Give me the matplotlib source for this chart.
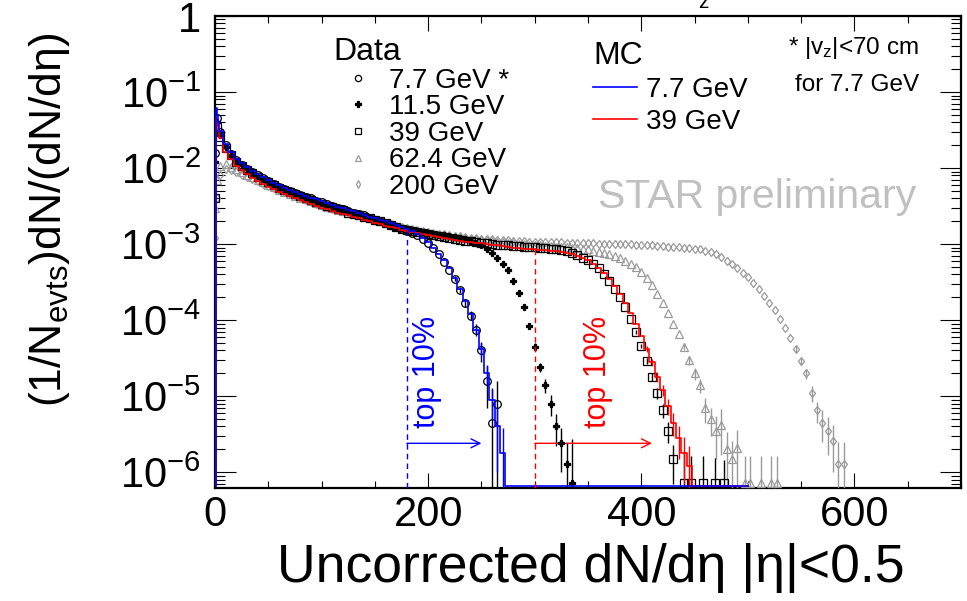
import numpy as np
import matplotlib
matplotlib.use("Agg")
import matplotlib.pyplot as plt
from matplotlib.lines import Line2D
from matplotlib.ticker import LogLocator, MultipleLocator, FuncFormatter, NullFormatter

plt.rcParams['font.family'] = ['Liberation Sans', 'DejaVu Sans']
plt.rcParams['mathtext.fontset'] = 'custom'
plt.rcParams['mathtext.rm'] = 'Liberation Sans'
plt.rcParams['mathtext.it'] = 'Liberation Sans:italic'
plt.rcParams['mathtext.bf'] = 'Liberation Sans:bold'

# ---- data (bins: 0, 2, then every 5 units) ----
y_77 = [0.016, 0.045,
        0.030, 0.020, 0.0155, 0.0128, 0.0111, 0.0098, 0.0088, 0.0080, 0.0073, 0.0067,
        0.0062, 0.0057, 0.0053, 0.0050, 0.0047, 0.0044, 0.0042, 0.0040, 0.0037, 0.0036,
        0.0034, 0.0032, 0.0030, 0.0029, 0.0027, 0.0026, 0.0025, 0.0024, 0.0022, 0.0021,
        0.0020, 0.0019, 0.0018, 0.0017, 0.0016, 0.0015, 0.00142, 0.00132, 0.00118, 0.00102,
        8.8e-4, 7.4e-4, 5.9e-4, 4.6e-4, 3.5e-4, 2.5e-4, 1.7e-4, 1.15e-4, 7.5e-5, 4.0e-5,
        1.6e-5, 4.5e-6, 8e-6]
err_77 = [2.5e-5, 2.2e-5, 1.9e-5, 1.6e-5, 1.4e-5, 1.2e-5, 9e-6, 8e-6, 8e-6]

y_115 = [0.012, 0.040,
         0.027, 0.019, 0.015, 0.0125, 0.0109, 0.0096, 0.0087, 0.0079, 0.0072, 0.0066,
         0.0061, 0.0057, 0.0053, 0.0049, 0.0046, 0.0044, 0.0041, 0.0039, 0.0037, 0.0035,
         0.0033, 0.0031, 0.0030, 0.0028, 0.0027, 0.0025, 0.0024, 0.0023, 0.0022, 0.0021,
         0.0020, 0.0019, 0.0018, 0.0017, 0.00165, 0.0016, 0.00155, 0.0015, 0.00145, 0.0014,
         0.00137, 0.00133, 0.0013, 0.00127, 0.00124, 0.00121, 0.00117, 0.00111, 0.00104, 9.6e-4,
         8.6e-4, 7.6e-4, 6.5e-4, 5.5e-4, 4.5e-4, 3.3e-4, 2.3e-4, 1.5e-4, 8.5e-5, 4.5e-5,
         2.4e-5, 1.4e-5, 8e-6, 4e-6, 2.4e-6, 1.3e-6, 7.3e-7]
err_115 = [8e-6, 5e-6, 3.5e-6, 3e-6, 2.5e-6, 1.8e-6, 1.4e-6, 1.1e-6, 2e-6]

y_39 = [0.004, 0.035,
        0.026, 0.0185, 0.0148, 0.0122, 0.0106, 0.0094, 0.0085, 0.0077, 0.0070, 0.0065,
        0.0060, 0.0055, 0.0051, 0.0048, 0.0045, 0.0043, 0.0040, 0.0038, 0.0036, 0.0034,
        0.0032, 0.0031, 0.0029, 0.0028, 0.0026, 0.0025, 0.0024, 0.0023, 0.0022, 0.0021,
        0.0020, 0.0019, 0.0018, 0.0017, 0.0016, 0.00155, 0.0015, 0.00145, 0.0014, 0.00136,
        0.00132, 0.00128, 0.00124, 0.0012, 0.00117, 0.00114, 0.00111, 0.00109, 0.00106, 0.00104,
        0.00102, 0.0010, 9.8e-4, 9.7e-4, 9.6e-4, 9.5e-4, 9.4e-4, 9.3e-4, 9.2e-4, 9.1e-4,
        9.0e-4, 8.9e-4, 8.7e-4, 8.5e-4, 8.3e-4, 8.0e-4, 7.6e-4, 7.1e-4, 6.6e-4, 6.1e-4,
        5.5e-4, 4.8e-4, 4.0e-4, 3.3e-4, 2.6e-4, 2.0e-4, 1.5e-4, 1.05e-4, 7.0e-5, 4.6e-5,
        2.9e-5, 1.8e-5, 1.1e-5, 6.5e-6, 3.5e-6, 1.5e-6]
err_39 = [3.5e-6, 3e-6, 2.6e-6, 2.2e-6, 1.8e-6, 1.4e-6, 1.1e-6, 8e-7]
x_39_single = [440, 447, 458, 469, 478]
y_39_single = [7.3e-7, 7.3e-7, 7.3e-7, 7.3e-7, 7.3e-7]
err_39_single = [1.2e-6, 9e-7, 9e-7, 8e-7, 7e-7]

y_624 = [0.003, 0.007,
         0.0105, 0.0112, 0.0104, 0.0096, 0.0089, 0.0082, 0.0076, 0.0070, 0.0065, 0.0060,
         0.0056, 0.0052, 0.0049, 0.0046, 0.0043, 0.0041, 0.0039, 0.0037, 0.0035, 0.0033,
         0.0031, 0.0030, 0.0028, 0.0027, 0.0026, 0.0025, 0.0024, 0.0023, 0.0022, 0.0021,
         0.0020, 0.0019, 0.0018, 0.00172, 0.00165, 0.0016, 0.00155, 0.0015, 0.00145, 0.0014,
         0.00137, 0.00134, 0.00131, 0.00128, 0.00125, 0.00123, 0.0012, 0.00118, 0.00116, 0.00114,
         0.00112, 0.0011, 0.00108, 0.00106, 0.00104, 0.00102, 0.0010, 9.9e-4, 9.8e-4, 9.7e-4,
         9.6e-4, 9.5e-4, 9.4e-4, 9.3e-4, 9.2e-4, 9.1e-4, 9.0e-4, 8.9e-4, 8.7e-4, 8.5e-4,
         8.2e-4, 7.9e-4, 7.6e-4, 7.3e-4, 6.9e-4, 6.5e-4, 6.0e-4, 5.5e-4, 5.0e-4, 4.3e-4,
         3.6e-4, 2.9e-4, 2.2e-4, 1.7e-4, 1.25e-4, 9.0e-5, 6.5e-5, 4.5e-5, 3.0e-5, 2.0e-5,
         1.4e-5, 7.0e-6, 5.0e-6, 3.5e-6, 4.2e-6, 2.0e-6, 1.5e-6, 2.1e-6]
err_624 = [5e-6, 4e-6, 3.5e-6, 3e-6, 2.5e-6, 2e-6, 2e-6, 2.5e-6, 1.4e-6, 1.1e-6, 1.5e-6]
x_624_single = [497, 502, 512, 522, 527]
y_624_single = [7.3e-7, 7.3e-7, 7.3e-7, 7.3e-7, 7.3e-7]
err_624_single = [9e-7, 9e-7, 9e-7, 9e-7, 9e-7]

y_200 = [0.0012, 0.004,
         0.008, 0.0098, 0.0094, 0.0088, 0.0082, 0.0077, 0.0072, 0.0067, 0.0062, 0.0058,
         0.0054, 0.0051, 0.0048, 0.0045, 0.0043, 0.0040, 0.0038, 0.0036, 0.0034, 0.0032,
         0.0031, 0.0029, 0.0028, 0.0027, 0.0026, 0.0025, 0.0024, 0.0023, 0.0022, 0.0021,
         0.0020, 0.0019, 0.00182, 0.00175, 0.00168, 0.00162, 0.00157, 0.00152, 0.00148, 0.00144,
         0.0014, 0.00137, 0.00134, 0.00131, 0.00128, 0.00126, 0.00124, 0.00122, 0.0012, 0.00118,
         0.00117, 0.00115, 0.00114, 0.00113, 0.00112, 0.00111, 0.0011, 0.00109, 0.00108, 0.00107,
         0.00107, 0.00106, 0.00106, 0.00105, 0.00105, 0.00104, 0.00104, 0.00103, 0.00103, 0.00102,
         0.00102, 0.00101, 0.00101, 0.0010, 0.0010, 0.0010, 9.9e-4, 9.9e-4, 9.8e-4, 9.8e-4,
         9.7e-4, 9.6e-4, 9.5e-4, 9.4e-4, 9.3e-4, 9.2e-4, 9.1e-4, 9.0e-4, 8.9e-4, 8.7e-4,
         8.5e-4, 8.2e-4, 7.8e-4, 7.3e-4, 6.7e-4, 6.0e-4, 5.4e-4, 4.8e-4, 4.2e-4, 3.7e-4,
         3.1e-4, 2.6e-4, 2.1e-4, 1.7e-4, 1.35e-4, 1.05e-4, 7.8e-5, 5.8e-5, 4.2e-5, 2.9e-5,
         2.0e-5, 1.1e-5, 6.5e-6, 4.5e-6, 3.5e-6, 2.6e-6, 1.3e-6, 1.3e-6]
err_200 = [3.5e-6, 3e-6, 3e-6, 2.5e-6, 2e-6, 2e-6, 1.8e-6, 1.6e-6, 1.2e-6, 1.2e-6]

# MC histograms (bins: 0, 1, 2, 3, then every 5 units), 0 = empty bin
mc_77 = [0, 0.062, 0.05, 0.04,
         0.031, 0.021, 0.0162, 0.0133, 0.0115, 0.0102, 0.0092, 0.0083, 0.0076, 0.0070,
         0.0064, 0.0059, 0.0055, 0.0052, 0.0049, 0.0046, 0.0043, 0.0041, 0.0039, 0.0037,
         0.0035, 0.0033, 0.0031, 0.0030, 0.0028, 0.0027, 0.0026, 0.0024, 0.0023, 0.0022,
         0.0021, 0.0020, 0.0019, 0.00178, 0.00168, 0.00158, 0.00148, 0.00136, 0.00122, 0.00106,
         9.0e-4, 7.5e-4, 6.1e-4, 4.8e-4, 3.6e-4, 2.6e-4, 1.8e-4, 1.2e-4, 7.5e-5, 4.2e-5,
         2.0e-5, 9e-6, 4e-6, 1.8e-6, 0]
mc_77_err = [1e-5, 8e-6, 6e-6, 4e-6, 3e-6, 2e-6]
mc_77_end = 500

mc_39 = [0, 0.045, 0.038, 0.032,
         0.025, 0.0165, 0.013, 0.0108, 0.0094, 0.0083, 0.0075, 0.0068, 0.0062, 0.0057,
         0.0053, 0.0049, 0.0046, 0.0043, 0.0040, 0.0038, 0.0036, 0.0034, 0.0032, 0.0030,
         0.0029, 0.0027, 0.0026, 0.0025, 0.0024, 0.0023, 0.0022, 0.0021, 0.0020, 0.0019,
         0.00182, 0.00175, 0.00168, 0.00161, 0.00155, 0.0015, 0.00145, 0.0014, 0.00135, 0.00131,
         0.00127, 0.00123, 0.0012, 0.00117, 0.00114, 0.00111, 0.00108, 0.00106, 0.00104, 0.00102,
         0.0010, 9.8e-4, 9.6e-4, 9.4e-4, 9.2e-4, 9.0e-4, 8.9e-4, 8.7e-4, 8.6e-4, 8.5e-4,
         8.4e-4, 8.3e-4, 8.2e-4, 8.0e-4, 7.9e-4, 7.7e-4, 7.4e-4, 7.0e-4, 6.6e-4, 6.1e-4,
         5.5e-4, 4.9e-4, 4.2e-4, 3.5e-4, 2.8e-4, 2.2e-4, 1.7e-4, 1.25e-4, 9.0e-5, 6.2e-5,
         4.2e-5, 2.8e-5, 1.8e-5, 1.2e-5, 7.5e-6, 4.5e-6, 2.8e-6, 1.8e-6, 1.2e-6, 0]
mc_39_err = [4e-6, 3e-6, 2.5e-6, 2e-6, 1.8e-6, 1.5e-6, 1.3e-6, 1.1e-6, 1e-6]
mc_39_end = 500

cut_77, cut_77_top = 180, 1.5e-3
cut_39, cut_39_top = 300, 9e-4
arrow_y = 2.4e-6
arrow_77_end = 250
arrow_39_end = 410

YMIN, YMAX = 6.2e-7, 1.0
GREY = '#9a9a9a'


def data_bins(y):
    return np.r_[0, 2, 5 * np.arange(1, len(y) - 1)]


def mc_bins(y):
    return np.r_[0, 1, 2, 3, 5 * np.arange(1, len(y) - 3)]


fig = plt.figure(figsize=(9.67, 6.01), dpi=100)
ax = fig.add_axes([215 / 967, 1 - 488 / 601, (961 - 215) / 967, (488 - 16) / 601])
ax.set_yscale('log')


def draw_data(x, y, err_tail, marker, color, ms, filled=False):
    y = np.asarray(y, dtype=float)
    err = np.zeros_like(y)
    if len(err_tail):
        err[len(y) - len(err_tail):] = err_tail
    lo = np.minimum(err, y - 1e-9)
    ax.errorbar(x, y, yerr=[lo, err], fmt=marker, ls='none',
                mfc=color if filled else 'none', mec=color, ecolor=color,
                ms=ms, mew=0.9, elinewidth=1.0, capsize=0, zorder=3)


def draw_mc(y, err_tail, end, color):
    y = np.asarray(y, dtype=float)
    x = np.r_[mc_bins(y), end]
    yy = np.r_[y, 0]
    yy = np.where(yy > 0, yy, YMIN * 1.05)
    ax.step(x, yy, where='mid', color=color, lw=1.2, zorder=4)
    n = len(err_tail)
    xe = mc_bins(y)[len(y) - 1 - n:len(y) - 1]
    ye = y[len(y) - 1 - n:len(y) - 1]
    err = np.asarray(err_tail)
    ax.errorbar(xe, ye, yerr=[np.minimum(err, ye - 1e-9), err], fmt='none',
                ecolor=color, elinewidth=1.0, capsize=0, zorder=4)


# grey series first, then black, then MC
draw_data(data_bins(y_200), y_200, err_200, 'd', GREY, 4.5)
draw_data(data_bins(y_624), y_624, err_624, '^', GREY, 5.5)
draw_data(x_624_single, y_624_single, err_624_single, '^', GREY, 5.5)
draw_data(data_bins(y_39), y_39, err_39, 's', 'black', 5.5)
draw_data(x_39_single, y_39_single, err_39_single, 's', 'black', 5.5)
draw_data(data_bins(y_115), y_115, err_115, 'P', 'black', 5.0, filled=True)
draw_data(data_bins(y_77), y_77, err_77, 'o', 'black', 5.5)
draw_mc(mc_39, mc_39_err, mc_39_end, '#ff0000')
draw_mc(mc_77, mc_77_err, mc_77_end, '#0000ff')

# centrality cuts
ax.vlines(cut_77, YMIN, cut_77_top, colors='#0000ff', linestyles=(0, (4, 3)), lw=1.0, zorder=5)
ax.vlines(cut_39, YMIN, cut_39_top, colors='#ff0000', linestyles=(0, (4, 3)), lw=1.0, zorder=5)
ax.annotate('', xy=(arrow_77_end, arrow_y), xytext=(cut_77, arrow_y),
            arrowprops=dict(arrowstyle='->', color='#0000ff', lw=1.0,
                            mutation_scale=16, shrinkA=0, shrinkB=0))
ax.annotate('', xy=(arrow_39_end, arrow_y), xytext=(cut_39, arrow_y),
            arrowprops=dict(arrowstyle='->', color='#ff0000', lw=1.0,
                            mutation_scale=16, shrinkA=0, shrinkB=0))
ax.text(199, 2.1e-5, 'top 10%', color='#0000ff', rotation=90, ha='center', va='center', fontsize=22)
ax.text(359, 2.1e-5, 'top 10%', color='#ff0000', rotation=90, ha='center', va='center', fontsize=22)

ax.set_xlim(0, 700)
ax.set_ylim(YMIN, YMAX)
ax.xaxis.set_major_locator(MultipleLocator(200))
ax.xaxis.set_minor_locator(MultipleLocator(50))
ax.yaxis.set_major_locator(LogLocator(base=10, numticks=20))
ax.yaxis.set_minor_locator(LogLocator(base=10, subs=np.arange(2, 10), numticks=20))
ax.yaxis.set_minor_formatter(NullFormatter())
ax.yaxis.set_major_formatter(FuncFormatter(
    lambda v, pos: '1' if abs(v - 1) < 1e-9 else r'$10^{%d}$' % round(np.log10(v))))
ax.tick_params(which='both', direction='in', top=True, right=True, width=0.8)
ax.tick_params(axis='y', which='major', length=15, pad=10, labelsize=30)
ax.tick_params(axis='y', which='minor', length=7)
ax.tick_params(axis='x', which='major', length=11, pad=5, labelsize=30)
ax.tick_params(axis='x', which='minor', length=5)
for s in ax.spines.values():
    s.set_linewidth(1.6)

# legends
data_handles = [
    Line2D([], [], ls='none', marker='o', mfc='none', mec='black', ms=4.5, mew=0.9),
    Line2D([], [], ls='none', marker='P', mfc='black', mec='black', ms=4.5, mew=0.9),
    Line2D([], [], ls='none', marker='s', mfc='none', mec='black', ms=4.5, mew=0.9),
    Line2D([], [], ls='none', marker='^', mfc='none', mec=GREY, ms=4.5, mew=0.9),
    Line2D([], [], ls='none', marker='d', mfc='none', mec=GREY, ms=4.0, mew=0.9),
]
data_labels = ['7.7 GeV *', '11.5 GeV', '39 GeV', '62.4 GeV', '200 GeV']
leg1 = ax.legend(data_handles, data_labels, title='Data', loc='upper left',
                 bbox_to_anchor=(333 / 967, 1 - 37 / 601), bbox_transform=fig.transFigure,
                 frameon=False, fontsize=20, title_fontsize=23, alignment='left',
                 handlelength=1.8, handletextpad=0.2, labelspacing=0.02,
                 borderpad=0, borderaxespad=0)
ax.add_artist(leg1)
mc_handles = [Line2D([], [], color='#0000ff', lw=1.2), Line2D([], [], color='#ff0000', lw=1.2)]
ax.legend(mc_handles, ['7.7 GeV', '39 GeV'], title='MC', loc='upper left',
          bbox_to_anchor=(593 / 967, 1 - 41 / 601), bbox_transform=fig.transFigure,
          frameon=False, fontsize=20, title_fontsize=23, alignment='left',
          handlelength=1.6, handletextpad=0.3, labelspacing=0.22,
          borderpad=0, borderaxespad=0)

fig.text(788 / 967, 1 - 48 / 601, r'* |v$_{\rm z}$|<70 cm', fontsize=17.5, va='center', ha='left')
fig.text(795 / 967, 1 - 85 / 601, 'for 7.7 GeV', fontsize=17.5, va='center', ha='left')
fig.text(598 / 967, 1 - 197 / 601, 'STAR preliminary', fontsize=29.5, color='#c0c0c0',
         va='center', ha='left')
fig.text(703 / 967, 1 - 2 / 601, 'z', fontsize=15, va='center', ha='center')

fig.text(50 / 967, 1 - 220 / 601, r'(1/N$_{\rm evts}$)dN/(dN/dη)', rotation=90,
         fontsize=32, ha='center', va='center')
fig.text(591 / 967, 1 - 568 / 601, 'Uncorrected dN/dη |η|<0.5', fontsize=38.5,
         ha='center', va='center')

fig.savefig('out.png', dpi=100)
